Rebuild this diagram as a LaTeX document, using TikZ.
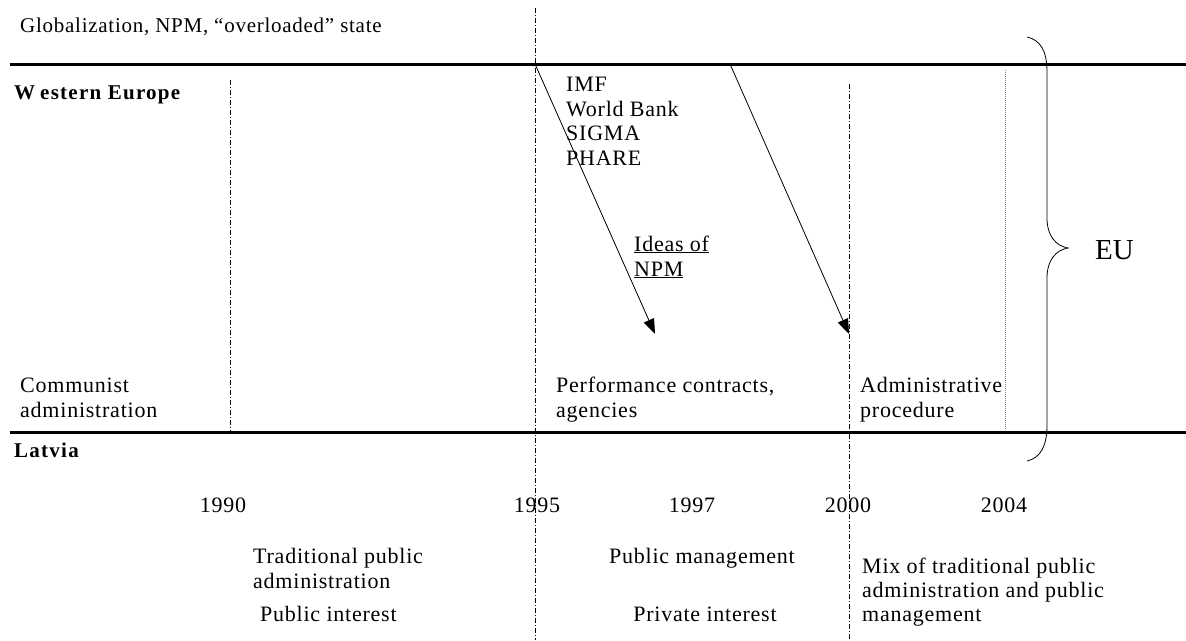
\documentclass[tikz,border=0pt]{standalone}
\usepackage{fontspec}
\setmainfont{Liberation Serif}[LetterSpace=3.5]
\newfontfamily\boldspaced{Liberation Serif}[LetterSpace=6,UprightFont=* Bold]
\newfontfamily\plainserif{Liberation Serif}
\usetikzlibrary{arrows.meta}
\begin{document}
\begin{tikzpicture}[x=1pt,y=-1pt,
  txt/.style={font=\fontsize{22}{25}\selectfont, inner sep=0pt, anchor=base west},
  txtc/.style={txt, anchor=base},
  boldtxt/.style={txt, font=\fontsize{21}{24}\boldspaced},
  eutxt/.style={inner sep=0pt, anchor=base west, font=\fontsize{29}{31}\plainserif},
  heavy/.style={line width=3pt},
  dd/.style={line width=0.8pt, dash pattern=on 5pt off 2pt on 1pt off 2pt},
  dotted line/.style={line width=0.6pt, gray, dash pattern=on 1pt off 1pt},
  arr/.style={line width=0.8pt, -{Triangle[length=15pt,width=11pt]}}]
\useasboundingbox (0,0) rectangle (1186,640);
% horizontal rules
\draw[heavy] (10,64) -- (1186,64);
\draw[heavy] (10,432) -- (1186,432);
% vertical separators
\draw[dd] (230,80) -- (230,432);
\draw[dd] (535,8) -- (535,640);
\draw[dd] (849,84) -- (849,640);
\draw[dotted line] (1005,70) -- (1005,430);
% texts top
\node[txt, font=\fontsize{21}{25}\selectfont] (glob) at (20,32) {Globalization, NPM, “overloaded” state};
\node[boldtxt] (we) at (14,99) {W\kern5pt estern Europe};
\node[txt] (imf) at (566,91) {IMF};
\node[txt] (wb) at (566,116) {World Bank};
\node[txt] (sigma) at (566,140) {SIGMA};
\node[txt] (phare) at (566,165) {PHARE};
\node[txt] (ideas) at (634,251) {\underline{Ideas of}};
\node[txt] (npm) at (634,276) {\underline{NPM}};
% arrows
\coordinate (a1s) at (535,64);
\coordinate (a1e) at (655,334);
\coordinate (a2s) at (730,64);
\coordinate (a2e) at (849,334);
\draw[arr] (a1s) -- (a1e);
\draw[arr] (a2s) -- (a2e);
% lower band texts
\node[txt] (comm1) at (20,392) {Communist};
\node[txt] (comm2) at (20,417) {administration};
\node[txt] (perf1) at (556,392) {Performance contracts,};
\node[txt] (perf2) at (556,417) {agencies};
\node[txt] (adm1) at (860,392) {Administrative};
\node[txt] (adm2) at (860,417) {procedure};
\node[boldtxt] (lat) at (14,457) {Latvia};
% years
\node[txtc] (y1990) at (223,512) {1990};
\node[txtc] (y1995) at (537,512) {1995};
\node[txtc] (y1997) at (692,512) {1997};
\node[txtc] (y2000) at (848,512) {2000};
\node[txtc] (y2004) at (1004,512) {2004};
% bottom descriptions
\node[txt] (tpa1) at (253,563) {Traditional public};
\node[txt] (tpa2) at (253,588) {administration};
\node[txt] (pi) at (260,621) {Public interest};
\node[txtc] (pm) at (702,563) {Public management};
\node[txtc] (pri) at (705,621) {Private interest};
\node[txt] (mix1) at (862,573) {Mix of traditional public};
\node[txt] (mix2) at (862,597) {administration and public};
\node[txt] (mix3) at (862,621) {management};
% brace
\draw[line width=0.8pt] (1027,37) .. controls (1040,40) and (1047,50) .. (1047,72)
  -- (1047,218) .. controls (1047,236) and (1056,246) .. (1068,248)
  .. controls (1056,250) and (1047,260) .. (1047,278)
  -- (1047,425) .. controls (1047,447) and (1040,458) .. (1027,461);
\node[eutxt] (eu) at (1095,259) {EU};
\end{tikzpicture}
\end{document}
